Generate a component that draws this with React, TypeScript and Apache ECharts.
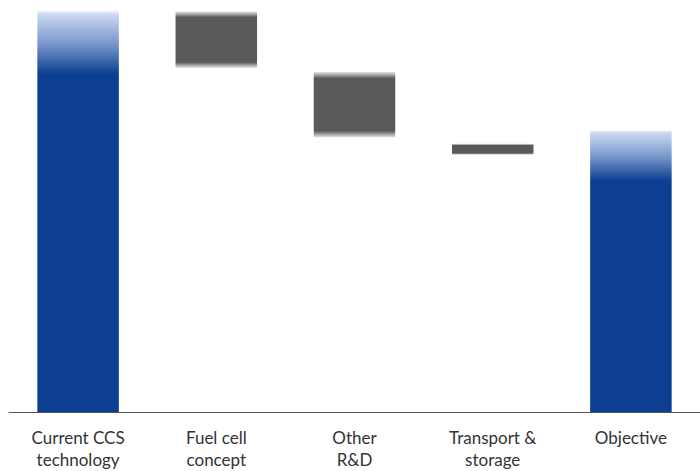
import React, { useEffect, useRef } from "react";
import * as echarts from "echarts";

const categories = ["Current CCS\ntechnology", "Fuel cell\nconcept", "Other\nR&D", "Transport &\nstorage", "Objective"];
// invisible base of each floating bar
const baseValues = [0, 85.6, 68.3, 64.0, 0];
// visible height of each bar
const barValues = [100, 14.0, 16.3, 2.7, 70.2];
const barKinds = ["total", "step", "step", "step", "total"];

const BLUE = "#0c3f91";
const GRAY = "#595959";

function blueGradient(solidAt: number) {
  return new echarts.graphic.LinearGradient(0, 0, 0, 1, [
    { offset: 0, color: "rgba(255,255,255,1)" },
    { offset: 0.01, color: "rgba(205,218,240,1)" },
    { offset: solidAt * 0.55, color: "#7393c9" },
    { offset: solidAt, color: BLUE },
    { offset: 1, color: BLUE },
  ]);
}

function grayGradient(edge: number) {
  return new echarts.graphic.LinearGradient(0, 0, 0, 1, [
    { offset: 0, color: "rgba(89,89,89,0.15)" },
    { offset: edge, color: GRAY },
    { offset: 1 - edge, color: GRAY },
    { offset: 1, color: "rgba(89,89,89,0.15)" },
  ]);
}

export default function App() {
  const ref = useRef<HTMLDivElement>(null);
  useEffect(() => {
    if (!ref.current) return;
    const chart = echarts.init(ref.current, null, { renderer: "svg" });
    const visible = barValues.map((v, i) => {
      let color: any;
      if (barKinds[i] === "total") {
        color = blueGradient(i === 0 ? 0.16 : 0.18);
      } else {
        color = grayGradient(v < 5 ? 0.15 : 0.1);
      }
      return { value: v, itemStyle: { color } };
    });
    chart.setOption({
      animation: false,
      backgroundColor: "#ffffff",
      grid: { left: 9, right: -3, top: 10, bottom: 59, containLabel: false },
      xAxis: {
        type: "category",
        data: categories,
        axisLine: { show: true, lineStyle: { color: "#555555", width: 1 } },
        axisTick: { show: false },
        axisLabel: {
          color: "#333333",
          fontSize: 17,
          fontFamily: "Lato",
          lineHeight: 22,
          margin: 14,
          interval: 0,
        },
      },
      yAxis: {
        type: "value",
        min: 0,
        max: 100,
        show: false,
        splitLine: { show: false },
      },
      series: [
        {
          type: "bar",
          stack: "w",
          data: baseValues,
          itemStyle: { color: "transparent" },
          barWidth: "59%",
          silent: true,
        },
        {
          type: "bar",
          stack: "w",
          data: visible,
          barWidth: "59%",
        },
      ],
    });
    return () => chart.dispose();
  }, []);
  return <div ref={ref} style={{ width: 700, height: 471, position: "absolute", left: 0, top: 0 }} />;
}
